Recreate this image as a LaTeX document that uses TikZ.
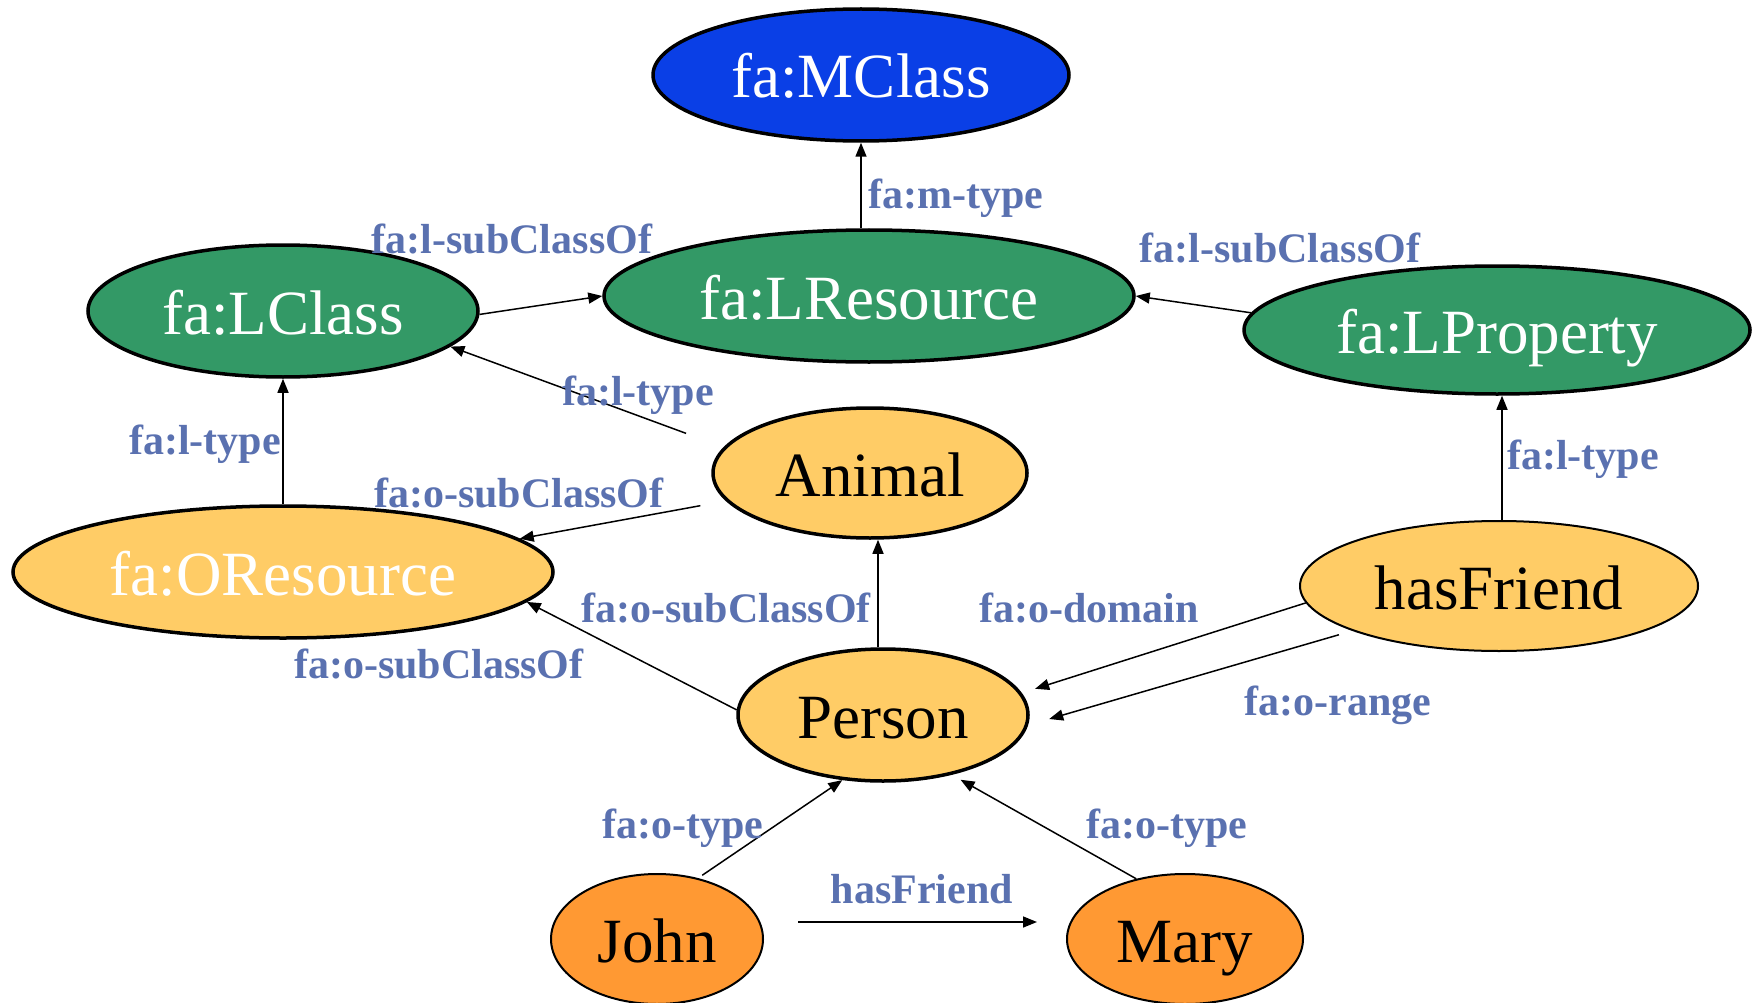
\documentclass[tikz,border=0pt]{standalone}
\usepackage{fontspec}
\setmainfont{Liberation Serif}
\usepackage{xcolor}
\usepackage{tikz}
\usetikzlibrary{shapes.geometric, arrows.meta}

\definecolor{mblue}{HTML}{0A3FE6}
\definecolor{lgreen}{HTML}{339966}
\definecolor{ocream}{HTML}{FFCC66}
\definecolor{iorange}{HTML}{FF9933}
\definecolor{lblue}{HTML}{5A71B0}

\begin{document}
\begin{tikzpicture}[x = 1pt, y = -1pt, line width = 1.5pt, >={Triangle[length=14pt, width=11pt]}]
            \tikzstyle{cls} = [ellipse, draw=black, line width=3.5pt, inner sep=0pt, text height=50pt, text depth=4pt, font=\fontsize{63}{70}\selectfont];
            \tikzstyle{meta} = [cls, fill=mblue, text=white]
            \tikzstyle{lang} = [cls, fill=lgreen, text=white]
            \tikzstyle{onto} = [cls, fill=ocream]
            \tikzstyle{inst} = [cls, fill=iorange, line width=2pt]
            \tikzstyle{rel} = [anchor=base, inner sep=0pt, text=lblue, font=\fontsize{42}{46}\selectfont\bfseries]

            \useasboundingbox (0,0) rectangle (1756,1003);

            \node [meta, minimum width=416, minimum height=132] (MClass) at (861,75) {fa:MClass};

            \node [lang, minimum width=530, minimum height=132] (LRes) at (869,296) {fa:LResource};
            \node [lang, minimum width=390, minimum height=132] (LClass) at (283,311) {fa:LClass};
            \node [lang, minimum width=506, minimum height=128] (LProp) at (1497,330) {fa:LProperty};

            \node [onto, minimum width=314, minimum height=130] (Animal) at (870,473) {Animal};
            \node [onto, text=white, minimum width=540, minimum height=132] (ORes) at (283,572) {fa:OResource};
            \node [onto, line width=2pt, minimum width=398, minimum height=130] (hasF) at (1499,586) {hasFriend};
            \node [onto, minimum width=290, minimum height=132] (Person) at (883,715) {Person};

            \node [inst, minimum width=212, minimum height=130] (John) at (657,939) {John};
            \node [inst, minimum width=236, minimum height=130] (Mary) at (1185,939) {Mary};

            \draw [->] (MClass.south |- LRes.north) to (MClass.south);
            \draw [->] (LClass.-1) to (LRes.west);
            \draw [->] (LProp.176) to (LRes.east);
            \draw [->, shorten <=40pt] (Animal.170) to (LClass.-12);
            \draw [->] (ORes.north) to (LClass.south);
            \draw [->, shorten <=26pt] (Animal.191) to (ORes.8);
            \draw [->] ([xshift=-5pt]Person.north) to ([xshift=-5pt]Person.north |- Animal.south);
            \draw [->] (Person.178) to (ORes.-7);
            \draw [->, shorten >=14pt] (hasF.185) to (Person.9);
            \draw [->, shorten <=14pt, shorten >=22pt] (hasF.197) to (Person.-4);
            \draw [->] ([xshift=3pt]hasF.north) to ([xshift=3pt]hasF.north |- LProp.south);
            \draw [->, shorten <=5pt] (John.56) to (Person.238);
            \draw [->, shorten >=10pt] (Mary.129) to (Person.-41);
            \draw [->, shorten <=34pt, shorten >=29pt] ([yshift=17pt]John.east) to ([yshift=17pt]Mary.west);

            \node [rel] (mt) at (956,208) {fa:m-type};
            \node [rel] (lsc1) at (512,253) {fa:l-subClassOf};
            \node [rel] (lsc2) at (1280,262) {fa:l-subClassOf};
            \node [rel] (lt1) at (638,405) {fa:l-type};
            \node [rel] (lt2) at (205,454) {fa:l-type};
            \node [rel] (lt3) at (1583,469) {fa:l-type};
            \node [rel] (osc1) at (519,507) {fa:o-subClassOf};
            \node [rel] (osc2) at (726,622) {fa:o-subClassOf};
            \node [rel] (osc3) at (439,678) {fa:o-subClassOf};
            \node [rel] (od) at (1089,622) {fa:o-domain};
            \node [rel] (orng) at (1338,715) {fa:o-range};
            \node [rel] (ot1) at (683,838) {fa:o-type};
            \node [rel] (ot2) at (1167,838) {fa:o-type};
            \node [rel] (hf) at (922,903) {hasFriend};
        \end{tikzpicture}
\end{document}
